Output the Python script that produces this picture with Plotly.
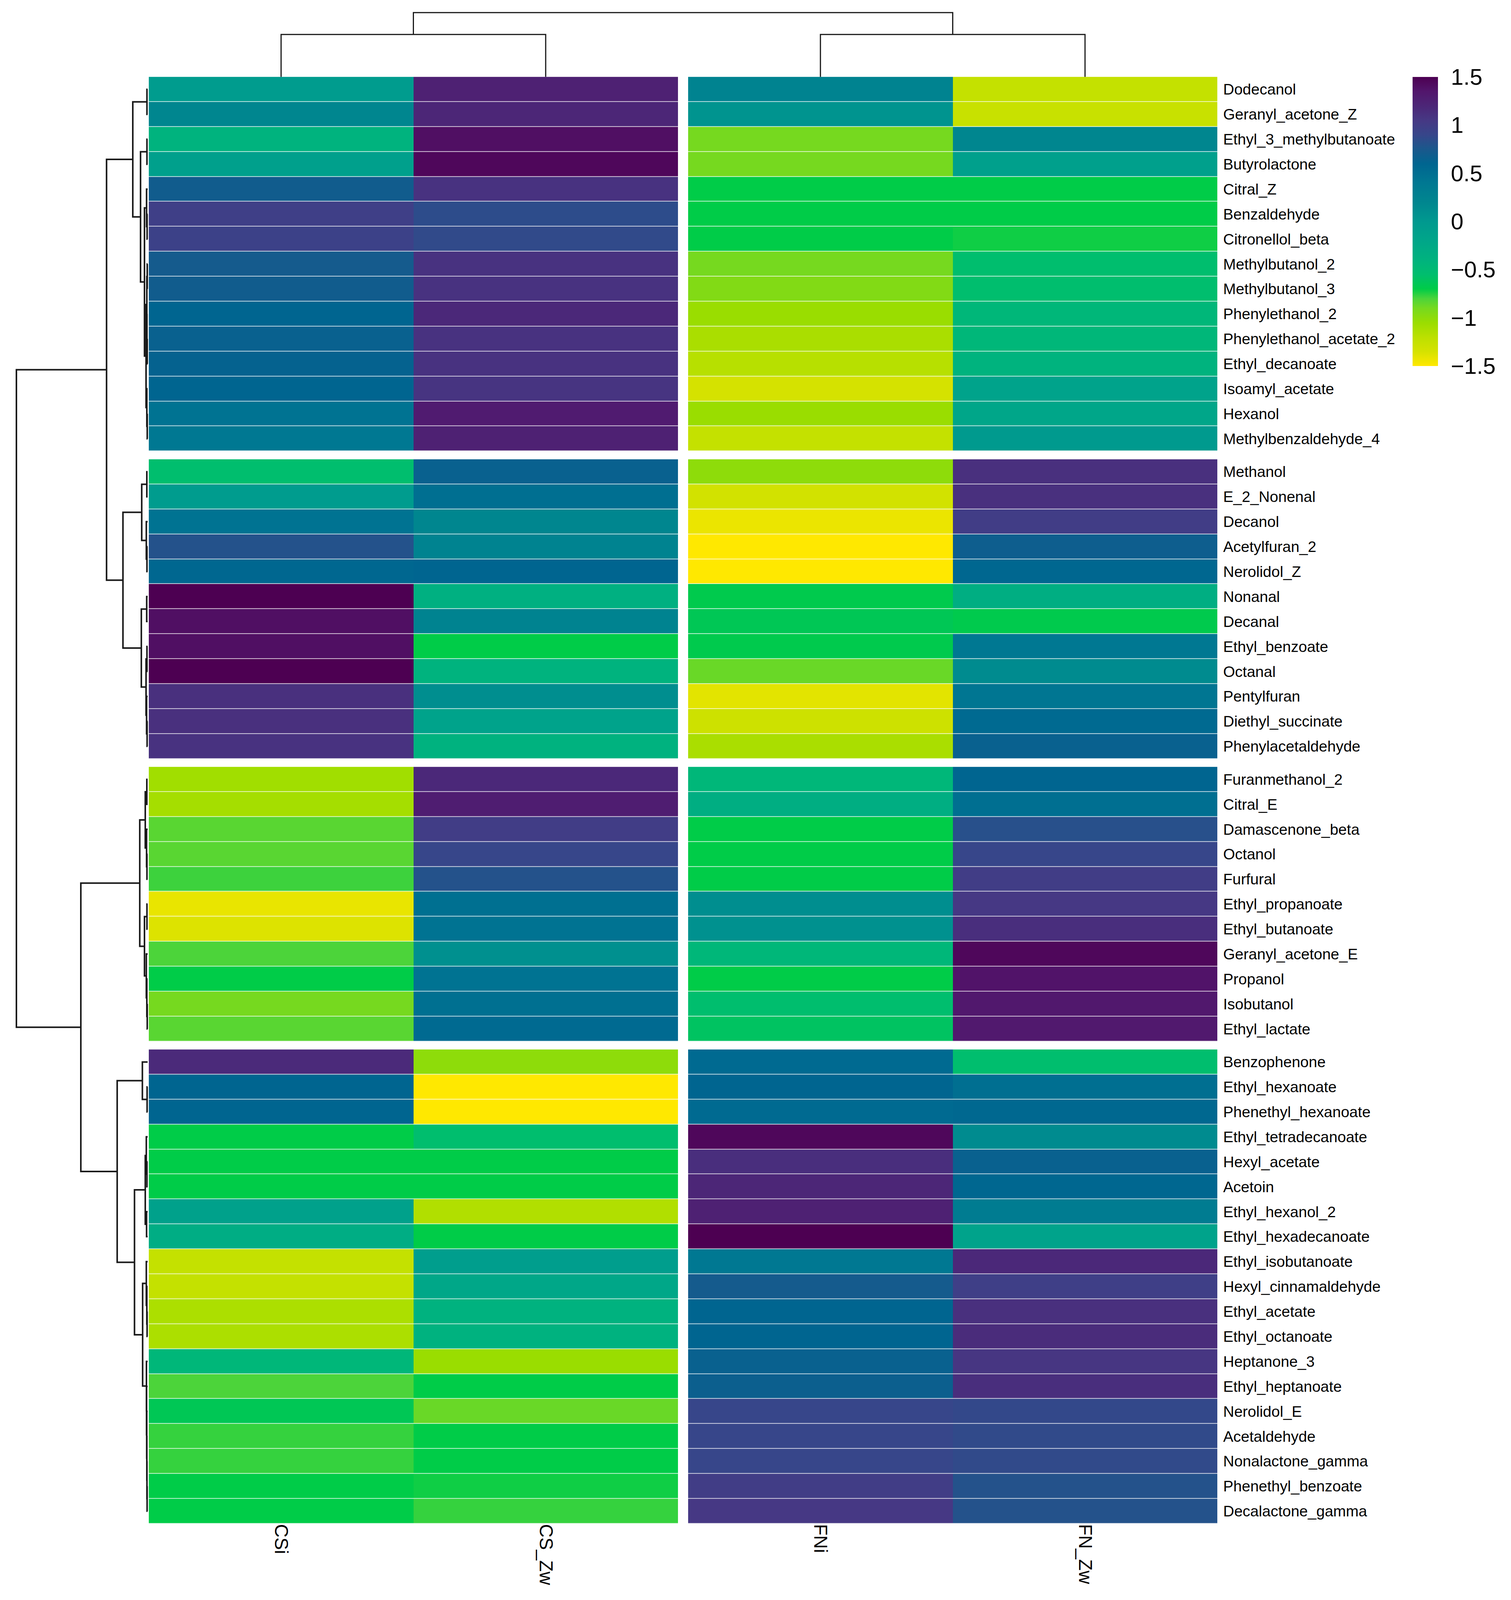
import numpy as np
import plotly.graph_objects as go

# row order as shown (after clustering)
compounds = [
    'Dodecanol', 'Geranyl_acetone_Z', 'Ethyl_3_methylbutanoate', 'Butyrolactone', 'Citral_Z',
    'Benzaldehyde', 'Citronellol_beta', 'Methylbutanol_2', 'Methylbutanol_3', 'Phenylethanol_2',
    'Phenylethanol_acetate_2', 'Ethyl_decanoate', 'Isoamyl_acetate', 'Hexanol', 'Methylbenzaldehyde_4',
    'Methanol', 'E_2_Nonenal', 'Decanol', 'Acetylfuran_2', 'Nerolidol_Z', 'Nonanal', 'Decanal',
    'Ethyl_benzoate', 'Octanal', 'Pentylfuran', 'Diethyl_succinate', 'Phenylacetaldehyde',
    'Furanmethanol_2', 'Citral_E', 'Damascenone_beta', 'Octanol', 'Furfural', 'Ethyl_propanoate',
    'Ethyl_butanoate', 'Geranyl_acetone_E', 'Propanol', 'Isobutanol', 'Ethyl_lactate',
    'Benzophenone', 'Ethyl_hexanoate', 'Phenethyl_hexanoate', 'Ethyl_tetradecanoate', 'Hexyl_acetate',
    'Acetoin', 'Ethyl_hexanol_2', 'Ethyl_hexadecanoate', 'Ethyl_isobutanoate', 'Hexyl_cinnamaldehyde',
    'Ethyl_acetate', 'Ethyl_octanoate', 'Heptanone_3', 'Ethyl_heptanoate', 'Nerolidol_E',
    'Acetaldehyde', 'Nonalactone_gamma', 'Phenethyl_benzoate', 'Decalactone_gamma',
]
samples = ['CSi', 'CS_Zw', 'FNi', 'FN_Zw']

# scaled values (z-score per compound)
csi = [-0.05, 0.2, -0.4, -0.1, 0.7, 0.98, 0.95, 0.72, 0.7, 0.6, 0.65, 0.63, 0.6, 0.45, 0.4,
       -0.55, -0.05, 0.45, 0.8, 0.58, 1.5, 1.4, 1.4, 1.5, 1.12, 1.12, 1.1,
       -1.08, -1.1, -0.83, -0.83, -0.78, -1.42, -1.38, -0.8, -0.7, -0.9, -0.83,
       1.17, 0.6, 0.6, -0.7, -0.7, -0.7, -0.12, -0.3, -1.25, -1.25, -1.13, -1.13, -0.45, -0.8,
       -0.65, -0.77, -0.77, -0.7, -0.7]
cs_zw = [1.25, 1.2, 1.4, 1.45, 1.1, 0.85, 0.87, 1.1, 1.1, 1.18, 1.1, 1.1, 1.08, 1.3, 1.25,
         0.65, 0.5, 0.2, 0.25, 0.6, -0.35, 0.25, -0.7, -0.4, 0.12, -0.15, -0.38,
         1.18, 1.28, 1.0, 0.9, 0.8, 0.48, 0.45, 0.1, 0.45, 0.48, 0.55,
         -1.0, -1.5, -1.5, -0.55, -0.7, -0.7, -1.15, -0.7, -0.08, -0.22, -0.38, -0.38, -1.05, -0.7,
         -0.87, -0.7, -0.7, -0.72, -0.77]
fni = [0.25, 0.05, -0.9, -0.9, -0.7, -0.7, -0.7, -0.9, -0.95, -1.05, -1.12, -1.18, -1.35, -1.05, -1.25,
       -1.0, -1.33, -1.43, -1.5, -1.5, -0.68, -0.65, -0.68, -0.87, -1.4, -1.3, -1.12,
       -0.45, -0.33, -0.7, -0.7, -0.7, 0.12, 0.08, -0.45, -0.7, -0.55, -0.6,
       0.55, 0.6, 0.55, 1.45, 1.13, 1.2, 1.25, 1.5, 0.4, 0.72, 0.6, 0.6, 0.65, 0.67,
       0.9, 0.9, 0.9, 1.0, 1.05]
fn_zw = [-1.25, -1.27, 0.2, -0.1, -0.7, -0.7, -0.72, -0.55, -0.55, -0.45, -0.45, -0.4, -0.15, -0.2, -0.02,
         1.12, 1.12, 1.0, 0.68, 0.58, -0.33, -0.68, 0.4, 0.15, 0.42, 0.55, 0.65,
         0.6, 0.5, 0.82, 0.9, 1.0, 1.05, 1.13, 1.45, 1.37, 1.33, 1.32,
         -0.55, 0.5, 0.57, 0.15, 0.65, 0.58, 0.35, -0.15, 1.18, 0.98, 1.12, 1.15, 1.07, 1.13,
         0.88, 0.87, 0.87, 0.8, 0.8]

row_group_sizes = [15, 12, 11, 19]
col_group_sizes = [2, 2]

# dendrograms: [merge height, left, right], leaves are row / column indices
g1 = [1.13, [0.05, 0, 1],
      [0.54, [0.05, 2, 3],
       [0.24, [0.08, 4, [0.04, 5, 6]],
        [0.12, [0.06, [0.03, 7, 8], [0.05, 9, [0.03, 10, 11]]], [0.06, 12, [0.03, 13, 14]]]]]]
g2 = [1.88, [0.45, [0.06, 15, 16], [0.1, 17, [0.05, 18, 19]]],
      [0.48, [0.07, 20, 21], [0.12, [0.05, 22, 23], [0.08, 24, [0.04, 25, 26]]]]]
g3 = [0.60, [0.18, [0.06, 27, 28], [0.08, 29, [0.05, 30, 31]]],
      [0.24, [0.05, 32, 33], [0.1, 34, [0.06, 35, [0.03, 36, 37]]]]]
g4 = [2.32, [0.4, 38, [0.04, 39, 40]],
      [1.0, [0.18, [0.1, 41, [0.05, 42, 43]], [0.08, 44, 45]],
       [0.38, [0.1, 46, [0.06, 47, [0.04, 48, 49]]],
        [0.09, 50, [0.08, 51, [0.07, 52, [0.06, 53, [0.05, 54, [0.04, 55, 56]]]]]]]]]
row_tree = [10.0, [3.13, g1, g2], [5.09, g3, g4]]
col_tree = [1.0, [0.66, 0, 1], [0.66, 2, 3]]

scale_ticks = [-1.5, -1, -0.5, 0, 0.5, 1, 1.5]

# ---- layout, in pixels of the 3869 x 5328 design ----
W, H = 3869, 5328
HM_LEFT, HM_TOP = 381, 256
COL_W, COL_GAP = 677.5, 26
ROW_H, ROW_GAP = 83.1, 27
ROW_ROOT_X = 42
COL_ROOT_Y = 42
CB_LEFT, CB_LEN, CB_W = 3617, 963, 65
FONT = 'Liberation Sans, Arial, Helvetica, sans-serif'
COL_FONT, COL_STANDOFF = 62, 18

col_c, x = [], HM_LEFT
for n in col_group_sizes:
    col_c += [x + (j + 0.5) * COL_W for j in range(n)]
    x += n * COL_W + COL_GAP
HM_RIGHT = x - COL_GAP

row_c, y = [], HM_TOP
for n in row_group_sizes:
    row_c += [y + (j + 0.5) * ROW_H for j in range(n)]
    y += n * ROW_H + ROW_GAP
HM_BOTTOM = y - ROW_GAP

# viridis-like scale, as it looks in the picture (yellow low -> purple high)
stops = [(-1.5, '#ffe800'), (-1.35, '#d5e200'), (-1.2, '#bce000'), (-1.05, '#9add00'),
         (-0.9, '#76d91f'), (-0.8, '#4cd43a'), (-0.7, '#00cc48'), (-0.55, '#00be6e'),
         (-0.4, '#00b37e'), (-0.2, '#00a689'), (0.0, '#00998f'), (0.2, '#00868f'),
         (0.4, '#007892'), (0.6, '#006590'), (0.75, '#1a588c'), (0.9, '#37468a'),
         (1.05, '#463884'), (1.2, '#4c2677'), (1.35, '#52166c'), (1.5, '#4d0052')]
colorscale = [[(v + 1.5) / 3, c] for v, c in stops]


def tree_segments(node, pos):
    if isinstance(node, int):
        return pos[node], 0.0, []
    h, a, b = node
    pa, ha, sa = tree_segments(a, pos)
    pb, hb, sb = tree_segments(b, pos)
    return (pa + pb) / 2, h, sa + sb + [[(ha, pa), (h, pa), (h, pb), (hb, pb)]]


fig = go.Figure()

# heatmap blocks (split by row / column clusters)
Z = np.array([csi, cs_zw, fni, fn_zw]).T
r0 = 0
for rn in row_group_sizes:
    c0 = 0
    for cn in col_group_sizes:
        fig.add_trace(go.Heatmap(
            z=Z[r0:r0 + rn, c0:c0 + cn], x=col_c[c0:c0 + cn], y=row_c[r0:r0 + rn],
            coloraxis='coloraxis', ygap=1.5, hoverinfo='skip'))
        c0 += cn
    r0 += rn

# row dendrogram (left)
_, root_h, segs = tree_segments(row_tree, row_c)
leaf_x = HM_LEFT - 3
k = (leaf_x - ROW_ROOT_X) / root_h
dx, dy = [], []
for seg in segs:
    dx += [leaf_x - hh * k for hh, _ in seg] + [None]
    dy += [p for _, p in seg] + [None]
fig.add_trace(go.Scatter(x=dx, y=dy, mode='lines', line=dict(color='#1a1a1a', width=4),
                         hoverinfo='skip'))

# column dendrogram (top)
_, root_h, segs = tree_segments(col_tree, col_c)
leaf_y = HM_TOP
k = (leaf_y - COL_ROOT_Y) / root_h
dx, dy = [], []
for seg in segs:
    dx += [p for _, p in seg] + [None]
    dy += [leaf_y - hh * k for hh, _ in seg] + [None]
fig.add_trace(go.Scatter(x=dx, y=dy, mode='lines', line=dict(color='#1a1a1a', width=3),
                         hoverinfo='skip'))

fig.update_layout(
    width=W, height=H, margin=dict(l=0, r=0, t=0, b=0),
    paper_bgcolor='white', plot_bgcolor='white', showlegend=False,
    font=dict(family=FONT, color='black'),
    coloraxis=dict(
        cmin=-1.5, cmax=1.5, colorscale=colorscale,
        colorbar=dict(x=CB_LEFT / W, xanchor='left', y=1 - HM_TOP / H, yanchor='top',
                      len=CB_LEN / H, lenmode='fraction', thickness=CB_W, thicknessmode='pixels',
                      xpad=0, ypad=0, outlinewidth=0, tickvals=scale_ticks,
                      ticks='outside', ticklen=22, tickcolor='rgba(0,0,0,0)',
                      tickfont=dict(size=58, family=FONT))),
    xaxis=dict(range=[0, W], domain=[0, 1], anchor='free', position=1 - HM_BOTTOM / H,
               side='bottom', tickmode='array', tickvals=col_c, ticktext=samples,
               tickangle=90, tickfont=dict(size=COL_FONT), ticks='',
               ticklabelstandoff=COL_STANDOFF,
               showgrid=False, zeroline=False, showline=False, fixedrange=True),
    yaxis=dict(range=[H, 0], domain=[0, 1], anchor='free', position=HM_RIGHT / W,
               side='right', tickmode='array', tickvals=row_c, ticktext=compounds,
               tickfont=dict(size=39), ticks='', ticklabelstandoff=14,
               showgrid=False, zeroline=False, showline=False, fixedrange=True),
)

# the browser window can be shorter than the design: fit the figure to it
fit = ("var gd=document.getElementById('{plot_id}');"
       "document.body.style.margin='0';"
       "var f=Math.min(1, window.innerHeight/%d);"
       "if(f<1){Plotly.relayout(gd,{height:Math.floor(window.innerHeight),"
       "'xaxis.tickfont.size':%d*f,'xaxis.ticklabelstandoff':%d*f});}"
       % (H, COL_FONT, COL_STANDOFF))
fig.write_html('out.html', post_script=fit, config={'displayModeBar': False})
